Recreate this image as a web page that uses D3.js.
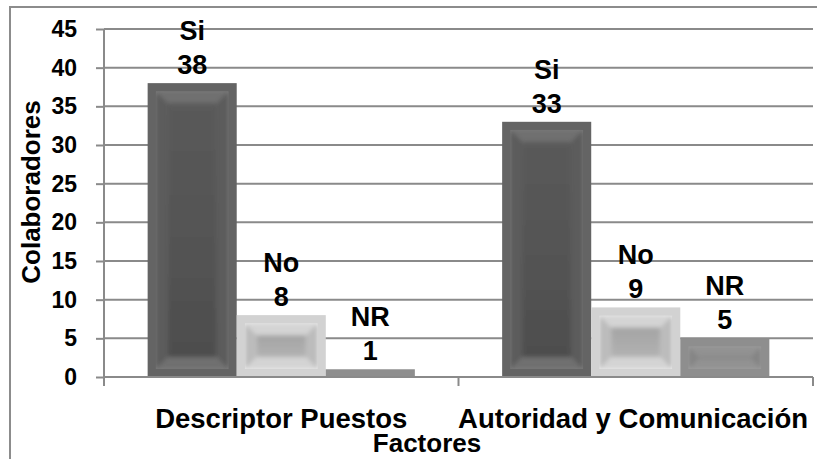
<!DOCTYPE html>
<html>
<head>
<meta charset="utf-8">
<script src="https://cdn.jsdelivr.net/npm/d3@7/dist/d3.min.js"></script>
<style>
  html, body { margin: 0; padding: 0; background: #fff; }
  svg text { font-family: "Liberation Sans", Arial, sans-serif; font-weight: bold; fill: #000; }
</style>
</head>
<body>
<svg id="chart" width="817" height="459"></svg>
<script>
// Survey results per factor
const categories = ["Descriptor Puestos", "Autoridad y Comunicación"];
const seriesNames = ["Si", "No", "NR"];
const siValues = [38, 33];
const noValues = [8, 9];
const nrValues = [1, 5];
const yTicks = [0, 5, 10, 15, 20, 25, 30, 35, 40, 45];
const yTitle = "Colaboradores";
const xTitle = "Factores";

const valuesBySeries = { "Si": siValues, "No": noValues, "NR": nrValues };

// Bar face palettes: frame, face top, face bottom, edge highlight, bevel tones
const palette = {
  "Si": { frame: "#646464", top: "#5a5a5a", bottom: "#4e4e4e", edge: "#7e7e7e", light: "#707070", dark: "#5c5c5c" },
  "No": { frame: "#d2d2d2", top: "#a4a4a4", bottom: "#b2b2b2", edge: "#eeeeee", light: "#d4d4d4", dark: "#bcbcbc" },
  "NR": { frame: "#8e8e8e", top: "#7c7c7c", bottom: "#848484", edge: "#a0a0a0", light: "#929292", dark: "#848484" }
};

const svg = d3.select("#chart");
const margin = { left: 104, right: 4, top: 29, bottom: 82 };
const W = 817, H = 459;
const plotRight = W - margin.right;
const plotBottom = H - margin.bottom;

const y = d3.scaleLinear().domain([0, 45]).range([plotBottom, margin.top]);
const x0 = d3.scaleBand().domain(categories).range([margin.left, plotRight]).paddingInner(0).paddingOuter(0);
const x1 = d3.scaleBand().domain(seriesNames).range([0, x0.bandwidth()]).paddingInner(0).paddingOuter(0.49);

const defs = svg.append("defs");
seriesNames.forEach(s => {
  const g = defs.append("linearGradient").attr("id", "face-" + s)
    .attr("x1", 0).attr("y1", 0).attr("x2", 0).attr("y2", 1);
  g.append("stop").attr("offset", "0%").attr("stop-color", palette[s].top);
  g.append("stop").attr("offset", "100%").attr("stop-color", palette[s].bottom);
});
defs.append("filter").attr("id", "soft").attr("x", "-10%").attr("y", "-10%").attr("width", "120%").attr("height", "120%")
  .append("feGaussianBlur").attr("stdDeviation", 2.2);

// Outer chart frame
svg.append("rect")
  .attr("x", 10).attr("y", 7).attr("width", W).attr("height", H)
  .attr("fill", "none").attr("stroke", "#8c8c8c").attr("stroke-width", 2);

// Horizontal gridlines
svg.append("g")
  .selectAll("line")
  .data(yTicks.filter(t => t > 0))
  .join("line")
  .attr("x1", margin.left).attr("x2", plotRight)
  .attr("y1", d => y(d)).attr("y2", d => y(d))
  .attr("stroke", "#8a8a8a").attr("stroke-width", 2);

// Y axis
const yAxis = svg.append("g")
  .attr("transform", `translate(${margin.left},0)`)
  .call(d3.axisLeft(y).tickValues(yTicks).tickSize(8).tickPadding(19));
yAxis.select(".domain").attr("stroke", "#8a8a8a").attr("stroke-width", 2)
  .attr("d", `M0,${y(45)}V${plotBottom + 9}`);
yAxis.selectAll(".tick line").attr("stroke", "#8a8a8a").attr("stroke-width", 2);
yAxis.selectAll(".tick text")
  .style("font-size", "23px").style("font-weight", "bold")
  .style("font-family", '"Liberation Sans", Arial, sans-serif').attr("fill", "#000");

// Bars
const bars = [];
categories.forEach((c, ci) => {
  seriesNames.forEach(s => {
    bars.push({ category: c, series: s, value: valuesBySeries[s][ci] });
  });
});

const barG = svg.append("g").selectAll("g").data(bars).join("g")
  .attr("transform", d => `translate(${x0(d.category) + x1(d.series)},0)`);

barG.each(function (d, i) {
  const g = d3.select(this);
  const w = x1.bandwidth();
  const top = y(d.value);
  const h = y(0) - top;
  const p = palette[d.series];
  g.append("rect").attr("x", 0).attr("y", top).attr("width", w).attr("height", h).attr("fill", p.frame);
  const a = Math.min(8, h / 4);
  const b = Math.min(20, h / 2 - 1);
  if (h > 20) {
    const ix = a, iy = top + a, iw = w - 2 * a, ih = h - 2 * a;
    const ox = b, oy = top + b, ow = w - 2 * b, oh = h - 2 * b;
    const clipId = "inner-" + i;
    defs.append("clipPath").attr("id", clipId)
      .append("rect").attr("x", x0(d.category) + x1(d.series) + ix).attr("y", iy)
      .attr("width", iw).attr("height", ih);
    const bevel = [
      { pts: [[ix, iy], [ix + iw, iy], [ox + ow, oy], [ox, oy]], fill: p.light },
      { pts: [[ix, iy + ih], [ix + iw, iy + ih], [ox + ow, oy + oh], [ox, oy + oh]], fill: p.light },
      { pts: [[ix, iy], [ox, oy], [ox, oy + oh], [ix, iy + ih]], fill: p.dark },
      { pts: [[ix + iw, iy], [ox + ow, oy], [ox + ow, oy + oh], [ix + iw, iy + ih]], fill: p.dark }
    ];
    const inner = g.append("g").attr("clip-path", `url(#${clipId})`)
      .attr("transform", `translate(${-(x0(d.category) + x1(d.series))},0)`)
      .append("g").attr("transform", `translate(${x0(d.category) + x1(d.series)},0)`);
    inner.append("rect").attr("x", ix).attr("y", iy).attr("width", iw).attr("height", ih)
      .attr("fill", p.edge);
    const soft = inner.append("g").attr("filter", "url(#soft)");
    soft.selectAll("polygon").data(bevel).join("polygon")
      .attr("points", q => q.pts.map(pt => pt.join(",")).join(" "))
      .attr("fill", q => q.fill);
    soft.append("rect").attr("x", ox).attr("y", oy).attr("width", ow).attr("height", oh)
      .attr("fill", "url(#face-" + d.series + ")");
  }

  // Value labels: series name above, value below
  const cx = w / 2;
  g.append("text").attr("x", cx).attr("y", top - 9).attr("text-anchor", "middle")
    .style("font-size", "27px").text(d.value);
  g.append("text").attr("x", cx).attr("y", top - 43).attr("text-anchor", "middle")
    .style("font-size", "27px").text(d.series);
});

// X axis line and category ticks
const xAxisG = svg.append("g");
xAxisG.append("line").attr("x1", margin.left).attr("x2", plotRight)
  .attr("y1", plotBottom).attr("y2", plotBottom)
  .attr("stroke", "#8a8a8a").attr("stroke-width", 2);
const tickXs = categories.map(c => x0(c)).concat([x0(categories[categories.length - 1]) + x0.bandwidth()]);
xAxisG.selectAll("line.tk").data(tickXs).join("line").attr("class", "tk")
  .attr("x1", d => d).attr("x2", d => d)
  .attr("y1", plotBottom).attr("y2", plotBottom + 9)
  .attr("stroke", "#8a8a8a").attr("stroke-width", 2);

// Category labels, kept inside the frame
xAxisG.selectAll("text.cat").data(categories).join("text").attr("class", "cat")
  .attr("y", plotBottom + 51).attr("text-anchor", "middle")
  .style("font-size", "27.5px")
  .text(d => d)
  .attr("x", function (d) {
    const cx = x0(d) + x0.bandwidth() / 2;
    const half = this.getComputedTextLength() / 2;
    return Math.min(cx, 808 - half);
  });

// Axis titles
svg.append("text").attr("x", 427).attr("y", 452).attr("text-anchor", "middle")
  .style("font-size", "26px").text(xTitle);
svg.append("text")
  .attr("transform", `translate(40,192) rotate(-90)`)
  .attr("text-anchor", "middle")
  .style("font-size", "26px").text(yTitle);
</script>
</body>
</html>
